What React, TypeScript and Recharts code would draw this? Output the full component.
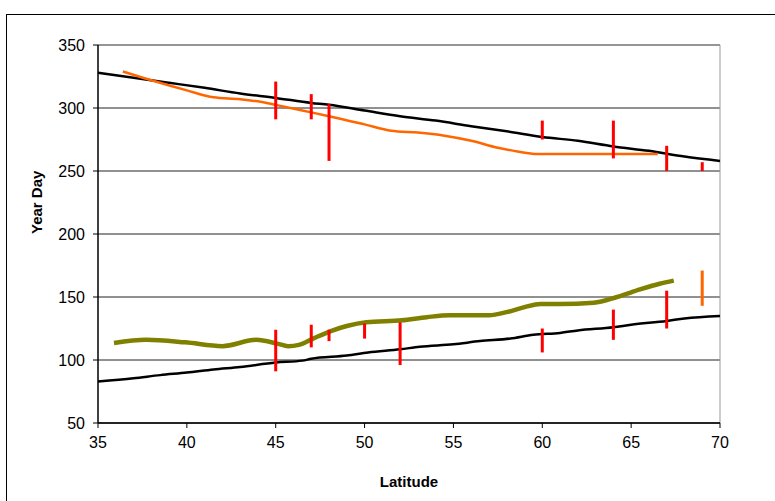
import { ComposedChart, Line, XAxis, YAxis, CartesianGrid, ReferenceLine } from 'recharts'

// latitude / year-day pairs
const upperBlackLat = [35, 37, 39, 41, 43, 45, 47, 48, 50, 52, 54, 56, 58, 60, 62, 64, 66, 68, 70]
const upperBlackDay = [328, 324, 320, 316, 311.5, 308, 304, 302.5, 298, 293.5, 290, 285.5, 281.5, 277, 274, 269.5, 266, 261.5, 258]

const upperOrangeLat = [36.4, 38, 40, 41.5, 43, 44.5, 45, 46.5, 48, 50, 51.5, 53, 54.5, 56, 57.5, 58.6, 59.7, 62, 64, 66.5]
const upperOrangeDay = [329, 322, 314, 308.5, 307, 304, 302.5, 298, 293.5, 287, 282, 280.5, 278, 274, 268.5, 265.5, 263.5, 263.5, 263.5, 263.5]

const lowerOliveLat = [35.9, 37.7, 39.9, 42, 43.9, 45.1, 45.7, 46.3, 47.1, 48.1, 49, 50.1, 52.1, 53.5, 54.8, 57, 58, 59, 59.9, 61, 62.9, 64.2, 65.5, 66.6, 67.4]
const lowerOliveDay = [113.5, 116, 114, 111, 116, 113, 111, 112, 117, 123, 127, 130, 131.5, 134, 135.5, 135.5, 138, 142, 144.5, 144.5, 145.5, 150, 156, 160.5, 163]

const lowerBlackLat = [35, 37, 38.5, 40, 41.5, 43, 45, 46.5, 47, 49, 50.2, 52, 53.1, 55, 56.5, 58.2, 59.5, 61, 62, 64, 65, 67, 68, 70]
const lowerBlackDay = [83, 85.5, 88, 90, 92.5, 94.5, 98, 99.5, 101, 103.5, 106, 108.5, 110.5, 112.5, 115, 117, 120, 121.5, 123.5, 126, 128, 131, 133, 135]

// observed ranges
const upperBarLat = [45, 47, 48, 60, 64, 67, 69]
const upperBarLo = [291, 291, 258, 275, 260, 250, 250]
const upperBarHi = [321, 311, 303, 290, 290, 270, 257]

const lowerBarLat = [45, 47, 48, 50, 52, 60, 64, 67]
const lowerBarLo = [91, 110, 115, 117, 96, 106, 116, 125]
const lowerBarHi = [124, 128, 124, 129, 130, 125, 140, 155]

const orangeBarLat = [69]
const orangeBarLo = [143]
const orangeBarHi = [171]

const xTicks = [35, 40, 45, 50, 55, 60, 65, 70]
const yTicks = [50, 100, 150, 200, 250, 300, 350]

const toPoints = (xs: number[], ys: number[]) => xs.map((x, i) => ({ x, y: ys[i] }))

const SERIES = [
  { key: 'upperBlack', data: toPoints(upperBlackLat, upperBlackDay), color: '#000000', width: 2.5 },
  { key: 'upperOrange', data: toPoints(upperOrangeLat, upperOrangeDay), color: '#FF6600', width: 2.5 },
  { key: 'lowerOlive', data: toPoints(lowerOliveLat, lowerOliveDay), color: '#808000', width: 4.5 },
  { key: 'lowerBlack', data: toPoints(lowerBlackLat, lowerBlackDay), color: '#000000', width: 2.5 },
]

const BARS = [
  ...upperBarLat.map((x, i) => ({ x, lo: upperBarLo[i], hi: upperBarHi[i], color: '#FF0000' })),
  ...lowerBarLat.map((x, i) => ({ x, lo: lowerBarLo[i], hi: lowerBarHi[i], color: '#FF0000' })),
  ...orangeBarLat.map((x, i) => ({ x, lo: orangeBarLo[i], hi: orangeBarHi[i], color: '#FF6600' })),
]

const font = 'Arial, "Liberation Sans", sans-serif'

export default function App() {
  return (
    <div style={{ position: 'absolute', left: 6, top: 14, width: 780, height: 495, border: '1px solid #000', background: '#fff', fontFamily: font }}>
      <ComposedChart width={770} height={480} margin={{ top: 30, right: 57, bottom: 7, left: 31 }}>
        <CartesianGrid vertical={false} stroke="#222" strokeWidth={1} />
        <XAxis
          type="number" dataKey="x" domain={[35, 70]} ticks={xTicks}
          allowDuplicatedCategory={false}
          tick={{ fontSize: 16, fill: '#000', fontFamily: font }}
          tickLine={{ stroke: '#000' }} tickSize={5} tickMargin={9}
          axisLine={{ stroke: '#000', strokeWidth: 1.5 }}
          height={65}
          label={{ value: 'Latitude', position: 'insideBottom', offset: 1, fontSize: 15, fontWeight: 'bold', fill: '#000', fontFamily: font }}
        />
        <YAxis
          type="number" dataKey="y" domain={[50, 350]} ticks={yTicks}
          tick={{ fontSize: 16, fill: '#000', fontFamily: font }}
          tickLine={{ stroke: '#000' }} tickSize={5} tickMargin={8}
          axisLine={{ stroke: '#000', strokeWidth: 1.5 }}
          width={60}
          label={{ value: 'Year Day', angle: -90, position: 'insideLeft', offset: 0, dx: -1, fontSize: 15, fontWeight: 'bold', fill: '#000', fontFamily: font }}
        />
        <ReferenceLine x={70} stroke="#999" />
        <ReferenceLine y={350} stroke="#999" />

        {SERIES.map(s => (
          <Line key={s.key} data={s.data} dataKey="y" type="monotone"
            stroke={s.color} strokeWidth={s.width} dot={false} activeDot={false}
            isAnimationActive={false} />
        ))}

        {BARS.map((b, i) => (
          <ReferenceLine key={i} segment={[{ x: b.x, y: b.lo }, { x: b.x, y: b.hi }]}
            stroke={b.color} strokeWidth={3} />
        ))}
      </ComposedChart>
    </div>
  )
}
